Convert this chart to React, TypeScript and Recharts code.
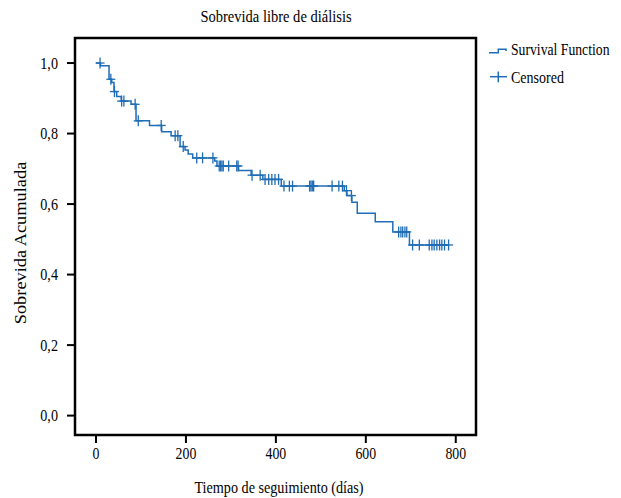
import {
  ComposedChart,
  Line,
  Scatter,
  XAxis,
  YAxis,
  ReferenceArea,
} from "recharts"

document.body.style.margin = "0"

// Kaplan-Meier steps: day where each level starts, and the survival at that level
const stepDays = [0, 10, 29, 35, 40, 46, 56, 78, 89, 119, 146, 167, 187, 198, 205, 215, 264, 269, 317, 345, 371, 412, 552, 558, 569, 581, 621, 660, 697, 785]
const stepSurv = [1.0, 0.992, 0.954, 0.945, 0.919, 0.905, 0.892, 0.883, 0.836, 0.823, 0.805, 0.794, 0.763, 0.753, 0.742, 0.731, 0.722, 0.708, 0.695, 0.682, 0.67, 0.651, 0.638, 0.624, 0.605, 0.574, 0.55, 0.521, 0.484, 0.484]

// censored observations
const censorDays = [9, 33, 41, 57, 62, 87, 94, 145, 176, 182, 194, 224, 237, 260, 274, 277, 280, 283, 295, 313, 316, 347, 365, 376, 384, 391, 398, 406, 418, 430, 437, 475, 478, 481, 484, 525, 540, 548, 557, 568, 673, 678, 682, 687, 691, 704, 719, 741, 747, 752, 758, 764, 769, 775, 784]
const censorSurv = [1.0, 0.954, 0.919, 0.892, 0.892, 0.883, 0.836, 0.823, 0.794, 0.794, 0.763, 0.731, 0.731, 0.731, 0.708, 0.708, 0.708, 0.708, 0.708, 0.708, 0.708, 0.682, 0.682, 0.67, 0.67, 0.67, 0.67, 0.67, 0.651, 0.651, 0.651, 0.651, 0.651, 0.651, 0.651, 0.651, 0.651, 0.651, 0.638, 0.624, 0.521, 0.521, 0.521, 0.521, 0.521, 0.484, 0.484, 0.484, 0.484, 0.484, 0.484, 0.484, 0.484, 0.484, 0.484]

const xTicks = [0, 200, 400, 600, 800]
const yTicks = [0, 0.2, 0.4, 0.6, 0.8, 1.0]

const X_DOMAIN: [number, number] = [-46.7, 845]
const Y_DOMAIN: [number, number] = [-0.055, 1.071]

const BLUE = "#1f6db5"
const FONT = "'Liberation Serif', 'Times New Roman', serif"

const curve = stepDays.map((d, i) => ({ day: d, s: stepSurv[i] }))
const censored = censorDays.map((d, i) => ({ day: d, s: censorSurv[i] }))

function CensorMark(props: any) {
  const { cx, cy } = props
  if (cx == null || cy == null) return null
  return (
    <g>
      <line x1={cx} x2={cx} y1={cy - 5.5} y2={cy + 5.5} stroke={BLUE} strokeWidth={1.3} />
      <line x1={cx - 4.5} x2={cx + 4.5} y1={cy} y2={cy} stroke={BLUE} strokeWidth={1.3} />
    </g>
  )
}

function YTick(props: any) {
  const { x, y, payload } = props
  const label = Number(payload.value).toFixed(1).replace(".", ",")
  return (
    <text
      x={0}
      y={0}
      dy={5.5}
      textAnchor="end"
      fontFamily={FONT}
      fontSize={16.5}
      fill="#000"
      transform={`translate(${x} ${y}) scale(0.86 1)`}
    >
      {label}
    </text>
  )
}

function XTick(props: any) {
  const { x, y, payload } = props
  return (
    <text
      x={0}
      y={0}
      dy={12}
      textAnchor="middle"
      fontFamily={FONT}
      fontSize={16.5}
      fill="#000"
      transform={`translate(${x} ${y}) scale(0.84 1)`}
    >
      {payload.value}
    </text>
  )
}

// narrow serif text, like the condensed Times of the original
function NarrowText({ x, y, anchor = "start", rotate = 0, sx = 0.85, size = 16.5, children }: any) {
  return (
    <text
      x={0}
      y={0}
      fontSize={size}
      textAnchor={anchor}
      transform={`translate(${x} ${y}) rotate(${rotate}) scale(${sx} 1)`}
    >
      {children}
    </text>
  )
}

export default function App() {
  return (
    <div style={{ position: "relative", width: 621, height: 498, background: "#fff" }}>
      <ComposedChart
        width={621}
        height={498}
        margin={{ top: 38, right: 145, bottom: 23, left: 15 }}
      >
        <XAxis
          type="number"
          dataKey="day"
          domain={X_DOMAIN}
          ticks={xTicks}
          allowDataOverflow
          axisLine={false}
          tickLine={{ stroke: "#000", strokeWidth: 2 }}
          tickSize={8}
          tickMargin={4}
          height={40}
          tick={<XTick />}
        />
        <YAxis
          type="number"
          dataKey="s"
          domain={Y_DOMAIN}
          ticks={yTicks}
          allowDataOverflow
          axisLine={false}
          tickLine={{ stroke: "#000", strokeWidth: 2 }}
          tickSize={8}
          tickMargin={9}
          width={60}
          tick={<YTick />}
        />
        <ReferenceArea
          x1={X_DOMAIN[0]}
          x2={X_DOMAIN[1]}
          y1={Y_DOMAIN[0]}
          y2={Y_DOMAIN[1]}
          fill="none"
          fillOpacity={0}
          stroke="#000"
          strokeWidth={2.5}
          ifOverflow="visible"
        />
        <Line
          data={curve}
          dataKey="s"
          type="stepAfter"
          stroke={BLUE}
          strokeWidth={1.5}
          dot={false}
          activeDot={false}
          isAnimationActive={false}
        />
        <Scatter
          data={censored}
          dataKey="s"
          shape={<CensorMark />}
          isAnimationActive={false}
        />
      </ComposedChart>
      <svg
        width={621}
        height={498}
        style={{ position: "absolute", left: 0, top: 0, pointerEvents: "none" }}
      >
        <g fontFamily={FONT} fill="#000">
          <NarrowText x={276} y={22} anchor="middle" sx={0.88}>
            Sobrevida libre de diálisis
          </NarrowText>
          <NarrowText x={279} y={493} anchor="middle" sx={0.86}>
            Tiempo de seguimiento (días)
          </NarrowText>
          <NarrowText x={26} y={243} anchor="middle" rotate={-90} size={17} sx={1.08}>
            Sobrevida Acumulada
          </NarrowText>
          <NarrowText x={511} y={55} sx={0.83}>
            Survival Function
          </NarrowText>
          <NarrowText x={511} y={83} sx={0.85}>
            Censored
          </NarrowText>
        </g>
        <polyline
          points="489,52.7 498.3,52.7 498.3,49.3 506,49.3 506,51"
          fill="none"
          stroke={BLUE}
          strokeWidth={1.5}
        />
        <line x1={490} x2={507} y1={76.7} y2={76.7} stroke={BLUE} strokeWidth={1.5} />
        <line x1={498.3} x2={498.3} y1={71.5} y2={82.3} stroke={BLUE} strokeWidth={1.5} />
      </svg>
    </div>
  )
}
